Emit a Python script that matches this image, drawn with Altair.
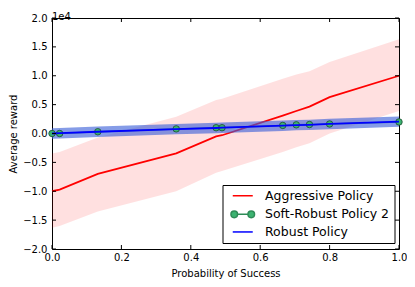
import altair as alt
import pandas as pd

# ---- data (rewards in raw units) ----
prob = [0.0, 0.022, 0.132, 0.358, 0.473, 0.49, 0.665, 0.704, 0.742, 0.8, 1.0]
agg_mean = [-10000, -9700, -7000, -3450, -500, -300, 3100, 3900, 4650, 6300, 10000]
agg_lower = [-16300, -16000, -13500, -10000, -6800, -6500, -3200, -2400, -1700, 0, 3900]
agg_upper = [-3450, -3200, -700, 2900, 5800, 6000, 9500, 10200, 10800, 12400, 16300]
soft_mean = [0, 0, 300, 800, 1000, 1000, 1400, 1500, 1550, 1650, 2000]
robust_mean = [0, 50, 300, 750, 950, 1000, 1350, 1450, 1500, 1650, 2050]
robust_lower = [-900, -850, -600, -150, 50, 100, 450, 550, 600, 750, 1150]
robust_upper = [900, 950, 1200, 1650, 1850, 1900, 2250, 2350, 2400, 2550, 2950]

series_names = ["Aggressive Policy", "Soft-Robust Policy 2", "Robust Policy"]
series_colors = ["#ff0000", "#2e8b57", "#0000ff"]
x_ticks = [0.0, 0.2, 0.4, 0.6, 0.8, 1.0]
y_ticks = [-20000, -15000, -10000, -5000, 0, 5000, 10000, 15000, 20000]
x_title = "Probability of Success"
y_title = "Average reward"
offset_text = "1e4"

# ---- tables ----
agg = pd.DataFrame({"p": prob, "mean": agg_mean, "lo": agg_lower, "hi": agg_upper})
soft = pd.DataFrame({"p": prob, "mean": soft_mean})
rob = pd.DataFrame({"p": prob, "mean": robust_mean, "lo": robust_lower, "hi": robust_upper})
allmeans = pd.concat([
    pd.DataFrame({"p": prob, "mean": agg_mean, "series": series_names[0]}),
    pd.DataFrame({"p": prob, "mean": soft_mean, "series": series_names[1]}),
    pd.DataFrame({"p": prob, "mean": robust_mean, "series": series_names[2]}),
])
xt = pd.DataFrame({"t": x_ticks})
yt = pd.DataFrame({"t": y_ticks})

W, H = 347, 231
FONT = "DejaVu Sans"

xscale = alt.Scale(domain=[0, 1], nice=False, zero=False)
yscale = alt.Scale(domain=[-20000, 20000], nice=False, zero=False)

x_axis = alt.Axis(values=x_ticks, format=".1f", ticks=False, tickSize=0, domain=False,
                  grid=False, labelPadding=3, labelFlush=False, labelFontSize=10,
                  title=x_title, titleFontSize=10, titleFontWeight="normal",
                  titleX=W / 2, titleY=24, titleBaseline="middle", titleAlign="center")
y_axis = alt.Axis(values=y_ticks, ticks=False, tickSize=0, domain=False, grid=False,
                  labelExpr="replace(format(datum.value / 10000, '.1f'), '-', '\u2212')",
                  labelPadding=5, labelFlush=False, labelFontSize=10,
                  title=y_title, titleFontSize=10, titleFontWeight="normal",
                  titleX=-39, titleY=H / 2, titleBaseline="middle", titleAlign="center",
                  titleAngle=270)


def X(field):
    return alt.X(field, type="quantitative", scale=xscale, axis=x_axis, title=x_title)


def Y(field):
    return alt.Y(field, type="quantitative", scale=yscale, axis=y_axis, title=y_title)


color_scale = alt.Scale(domain=series_names, range=series_colors)
line_path = "M-2,0H2"
dot_path = ("M-1.04,0H1.04"
            "M-1.04,0A0.66,0.66,0,1,1,-2.36,0A0.66,0.66,0,1,1,-1.04,0"
            "M2.36,0A0.66,0.66,0,1,1,1.04,0A0.66,0.66,0,1,1,2.36,0")
shape_scale = alt.Scale(domain=series_names, range=[line_path, dot_path, line_path])
legend = alt.Legend(title=None, orient="none", legendX=170.5, legendY=167,
                    direction="vertical", symbolOpacity=1)

red_band = alt.Chart(agg).mark_area(fill="#ff0000", opacity=0.12).encode(
    x=X("p"), y=Y("lo"), y2="hi:Q")
red_line = alt.Chart(agg).mark_line(strokeWidth=1.8, color=series_colors[0]).encode(
    x=X("p"), y=Y("mean"))
green_line = alt.Chart(soft).mark_line(strokeWidth=1.5, color=series_colors[1]).encode(
    x=X("p"), y=Y("mean"))
blue_band = alt.Chart(rob).mark_area(fill="#3a5fd9", opacity=0.62).encode(
    x=X("p"), y=Y("lo"), y2="hi:Q")
green_pts = alt.Chart(soft).mark_point(shape="circle", filled=True, fill="#3cb371",
                                       stroke="#1b4d2e", strokeWidth=0.8, size=42,
                                       opacity=1).encode(x=X("p"), y=Y("mean"))
blue_line = alt.Chart(rob).mark_line(strokeWidth=1.8, color=series_colors[2]).encode(
    x=X("p"), y=Y("mean"))

legend_layer = alt.Chart(allmeans).mark_point(filled=False, fill="#3cb371", opacity=0).encode(
    x=X("p"), y=Y("mean"),
    color=alt.Color("series:N", scale=color_scale, legend=legend),
    shape=alt.Shape("series:N", scale=shape_scale, legend=legend))

tick_len = 4
xt_bot = alt.Chart(xt).mark_rule(color="black", strokeWidth=1).encode(
    x=X("t"), y=alt.value(H), y2=alt.value(H - tick_len))
xt_top = alt.Chart(xt).mark_rule(color="black", strokeWidth=1).encode(
    x=X("t"), y=alt.value(0), y2=alt.value(tick_len))
yt_left = alt.Chart(yt).mark_rule(color="black", strokeWidth=1).encode(
    y=Y("t"), x=alt.value(0), x2=alt.value(tick_len))
yt_right = alt.Chart(yt).mark_rule(color="black", strokeWidth=1).encode(
    y=Y("t"), x=alt.value(W), x2=alt.value(W - tick_len))

chart = alt.layer(
    red_band, red_line, green_line, blue_band, green_pts, blue_line, legend_layer,
    xt_bot, xt_top, yt_left, yt_right
).properties(
    width=W, height=H,
    title=alt.TitleParams(offset_text, anchor="start", fontSize=10, fontWeight="normal",
                          font=FONT, color="black", offset=0, dy=9, frame="group"),
    autosize=alt.AutoSizeParams(type="none"),
    padding={"left": 44, "top": 10, "right": 8, "bottom": 30},
).configure(
    font=FONT
).configure_view(
    stroke="black", strokeWidth=1
).configure_axis(
    labelColor="black", titleColor="black", labelFont=FONT, titleFont=FONT
).configure_legend(
    labelFont=FONT, labelFontSize=12.5, labelColor="black",
    symbolSize=100, symbolOffset=9.5, labelOffset=16, padding=4.5, rowPadding=4.6,
    cornerRadius=0, fillColor="white", strokeColor="black", strokeWidth=1,
    symbolStrokeWidth=1.5, symbolFillColor="#3cb371", symbolOpacity=1
)

chart.save("out.html", embed_options={"renderer": "svg", "actions": False})
